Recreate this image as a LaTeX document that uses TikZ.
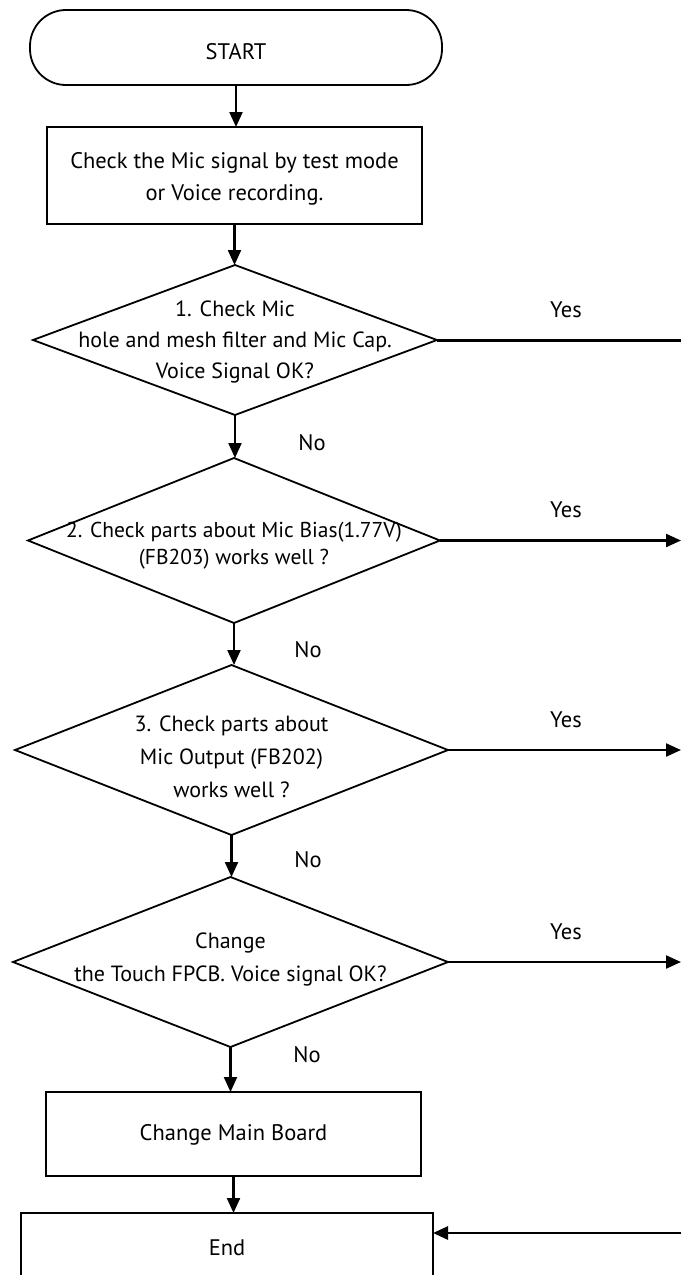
\documentclass[tikz,border=0pt]{standalone}
\usepackage{fontspec}
\setmainfont{PT Sans}
\usetikzlibrary{shapes.geometric,arrows.meta}
\begin{document}
\begin{tikzpicture}[x=1pt,y=-1pt,
  box/.style={draw, line width=1.8pt, inner sep=0pt, outer sep=0pt},
  dec/.style={draw, diamond, line width=1.8pt, inner sep=0pt, outer sep=0pt},
  txt/.style={align=center, inner sep=0pt, font=\fontsize{22}{31}\selectfont},
  arr/.style={line width=2.2pt, -{Triangle[length=15pt,width=13pt]}},
  yesline/.style={line width=3pt},
  lbl/.style={inner sep=0pt, font=\fontsize{22.5}{26}\selectfont}
]
\useasboundingbox (0,0) rectangle (681,1275);
\clip (0,0) rectangle (681,1275);

\node[box, rounded corners=36pt, minimum width=412pt, minimum height=75pt] (start) at (236,47.5) {};
\node[txt, font=\fontsize{22.5}{31}\selectfont] (tstart) at (236,52) {START};
\node[box, minimum width=375pt, minimum height=97pt] (chk) at (234.5,175.5) {};
\node[txt, font=\fontsize{22.5}{32}\selectfont] (tchk) at (234.5,179) {Check the Mic signal by test mode\\or Voice recording.};

\node[dec, minimum width=404pt, minimum height=150pt] (d1) at (235,340) {};
\node[txt] (t1) at (235,342) {1. Check Mic\\hole and mesh filter and Mic Cap.\\Voice Signal OK?};

\node[dec, minimum width=412pt, minimum height=165pt] (d2) at (234,540.5) {};
\node[txt, font=\fontsize{21.5}{27}\selectfont] (t2) at (234,546) {2. Check parts about Mic Bias(1.77V)\\(FB203) works well ?};

\node[dec, minimum width=433pt, minimum height=170pt] (d3) at (231.5,750) {};
\node[txt, font=\fontsize{22}{33}\selectfont] (t3) at (231.5,757) {3. Check parts about\\Mic Output (FB202)\\works well ?};

\node[dec, minimum width=435pt, minimum height=170pt] (d4) at (230.5,962) {};
\node[txt, font=\fontsize{22}{33}\selectfont] (t4) at (230.5,959) {Change\\the Touch FPCB. Voice signal OK?};

\node[box, minimum width=375pt, minimum height=84pt] (mb) at (233.5,1134) {};
\node[txt, font=\fontsize{22.5}{31}\selectfont] (tmb) at (233.5,1135) {Change Main Board};
\node[box, minimum width=412pt, minimum height=72pt] (end) at (227,1249) {};
\node[txt, font=\fontsize{22.5}{31}\selectfont] (tend) at (227,1248) {End};

% vertical flow
\draw[arr] (start.south) -- (start.south |- chk.north);
\draw[arr] (chk.south) -- (chk.south |- d1.north);
\draw[arr] (d1.south) -- (d1.south |- d2.north);
\draw[arr] (d2.south) -- (d2.south |- d3.north);
\draw[arr] (d3.south) -- (d3.south |- d4.north);
\draw[arr] (d4.south) -- (d4.south |- mb.north);
\draw[arr] (mb.south) -- (mb.south |- end.north);

% yes branches
\coordinate (r1) at (681,340);
\coordinate (r2) at (681,540.5);
\coordinate (r3) at (681,750);
\coordinate (r4) at (681,962);
\coordinate (rE) at (681,1233);
\draw[yesline] (d1.east) -- (r1);
\draw[arr] (d2.east) -- (r2);
\draw[arr] (d3.east) -- (r3);
\draw[arr] (d4.east) -- (r4);
\draw[arr, line width=2.8pt] (rE) -- (rE -| end.east);

% labels
\node[lbl] (y1) at (566,310) {Yes};
\node[lbl] (y2) at (566,510) {Yes};
\node[lbl] (y3) at (566,720) {Yes};
\node[lbl] (y4) at (566,932) {Yes};
\node[lbl] (n1) at (312,443) {No};
\node[lbl] (n2) at (308,650) {No};
\node[lbl] (n3) at (308,860) {No};
\node[lbl] (n4) at (307,1055) {No};
\end{tikzpicture}
\end{document}
